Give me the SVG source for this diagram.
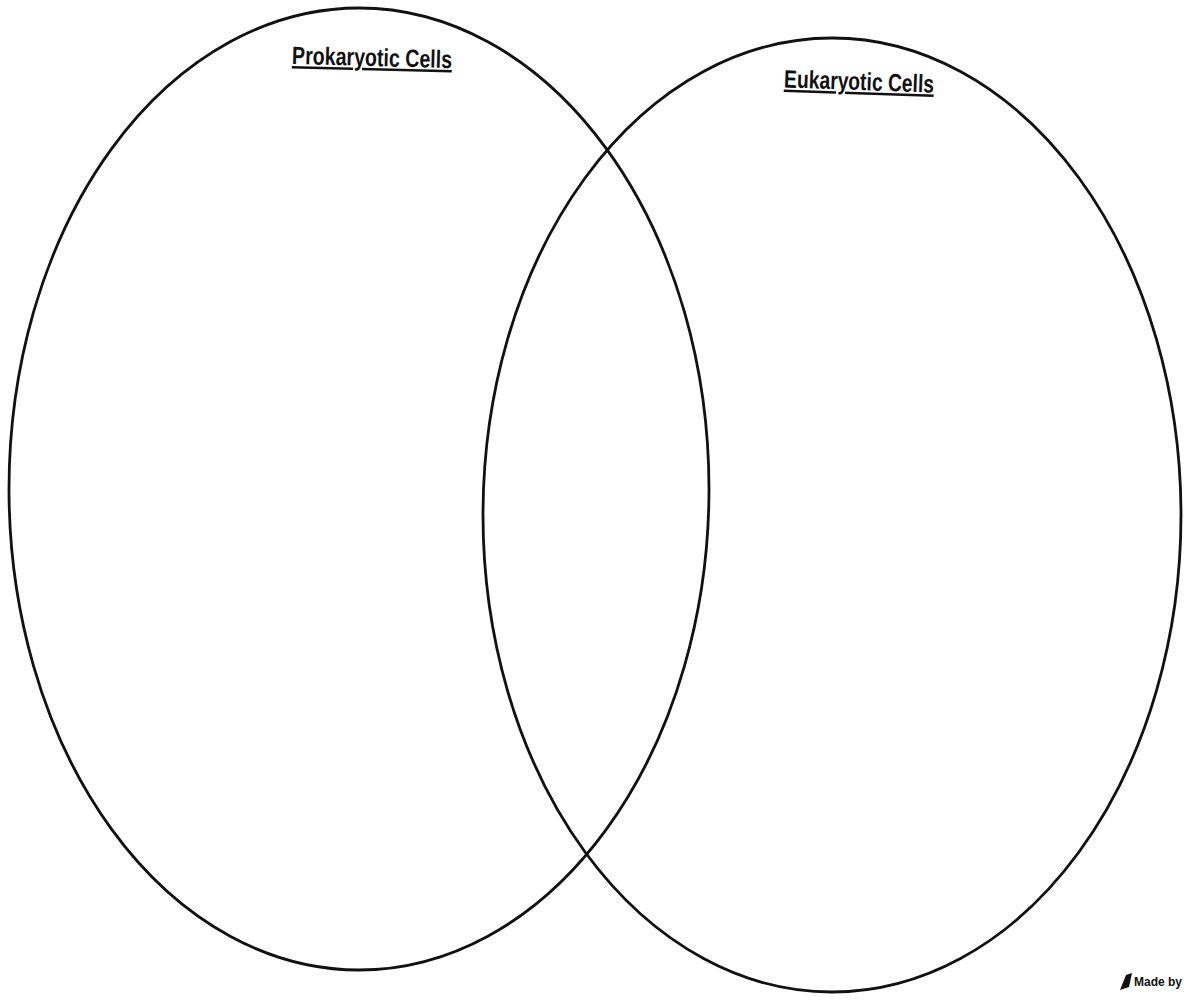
<svg xmlns="http://www.w3.org/2000/svg" width="1188" height="1000" viewBox="0 0 1188 1000">
<style>
.ring{fill:none;stroke:#111;stroke-width:2.8}
.title{font-family:"Liberation Sans",Arial,sans-serif;font-weight:bold;font-size:25px;fill:#111;text-decoration:underline}
.small{font-family:"Liberation Sans",Arial,sans-serif;font-weight:bold;font-size:12px;fill:#111}
</style>
<rect width="1188" height="1000" fill="#fff"/>
<g id="prokaryotic">
<ellipse class="ring" cx="359" cy="489" rx="350" ry="481"/>
<text class="title" x="372" y="66" text-anchor="middle" textLength="160" lengthAdjust="spacingAndGlyphs" transform="rotate(1.5 372 60)">Prokaryotic Cells</text>
</g>
<g id="eukaryotic">
<ellipse class="ring" cx="832" cy="515" rx="349" ry="477"/>
<text class="title" x="859" y="90" text-anchor="middle" textLength="150" lengthAdjust="spacingAndGlyphs" transform="rotate(2 859 84)">Eukaryotic Cells</text>
</g>
<g id="connectors"></g>
<g id="madeby">
<path d="M1120 990 L1126 975 L1132 973 L1129 987 Z" fill="#111"/>
<text class="small" x="1134" y="986">Made by</text>
</g>
</svg>
